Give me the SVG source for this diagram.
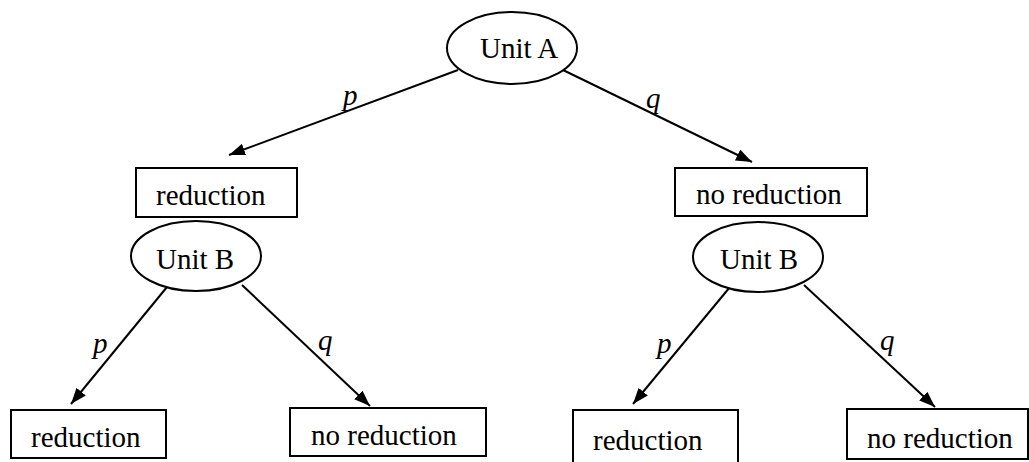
<svg xmlns="http://www.w3.org/2000/svg" width="1029" height="462" viewBox="0 0 1029 462">
<style>
.shape{fill:#fff;stroke:#000;stroke-width:2}
.t{font-family:'Liberation Serif',serif;font-size:29px;fill:#000}
.lbl{font-family:'Liberation Serif',serif;font-size:29px;font-style:italic;fill:#000}
.edge{stroke:#000;stroke-width:2;fill:none;marker-end:url(#ah)}
</style>
<defs>
<marker id="ah" viewBox="0 0 16 12" refX="16" refY="6" markerWidth="16" markerHeight="12" markerUnits="userSpaceOnUse" orient="auto">
<path d="M0,0 L16,6 L0,12 Z" fill="#000"/>
</marker>
</defs>
<g id="connectors">
<line class="edge" x1="458" y1="70" x2="229" y2="155"/>
<line class="edge" x1="563" y1="70" x2="752" y2="162"/>
<line class="edge" x1="167" y1="287" x2="71" y2="404"/>
<line class="edge" x1="242" y1="285" x2="370" y2="406"/>
<line class="edge" x1="730" y1="287" x2="633" y2="404"/>
<line class="edge" x1="804" y1="285" x2="935" y2="407"/>
<text class="lbl" x="343" y="105">p</text>
<text class="lbl" x="646" y="108">q</text>
<text class="lbl" x="93" y="353">p</text>
<text class="lbl" x="318" y="350">q</text>
<text class="lbl" x="657" y="353">p</text>
<text class="lbl" x="880" y="350">q</text>
</g>
<g id="unitA">
<ellipse class="shape" cx="512" cy="48" rx="65" ry="36"/>
<text class="t" x="480" y="58">Unit A</text>
</g>
<g id="reductionL">
<rect class="shape" x="136" y="168" width="161" height="49"/>
<text class="t" x="156" y="205">reduction</text>
</g>
<g id="unitBL">
<ellipse class="shape" cx="196" cy="256" rx="65" ry="35"/>
<text class="t" x="156" y="269">Unit B</text>
</g>
<g id="noreductionR">
<rect class="shape" x="675" y="168" width="192" height="48"/>
<text class="t" x="696" y="204">no reduction</text>
</g>
<g id="unitBR">
<ellipse class="shape" cx="758" cy="257" rx="65" ry="35"/>
<text class="t" x="720" y="269">Unit B</text>
</g>
<g id="leaf1">
<rect class="shape" x="11" y="410" width="155" height="48"/>
<text class="t" x="31" y="447">reduction</text>
</g>
<g id="leaf2">
<rect class="shape" x="290" y="408" width="196" height="48"/>
<text class="t" x="311" y="445">no reduction</text>
</g>
<g id="leaf3">
<rect class="shape" x="573" y="410" width="165" height="54"/>
<text class="t" x="593" y="450">reduction</text>
</g>
<g id="leaf4">
<rect class="shape" x="847" y="409" width="181" height="50"/>
<text class="t" x="867" y="448">no reduction</text>
</g>
</svg>
